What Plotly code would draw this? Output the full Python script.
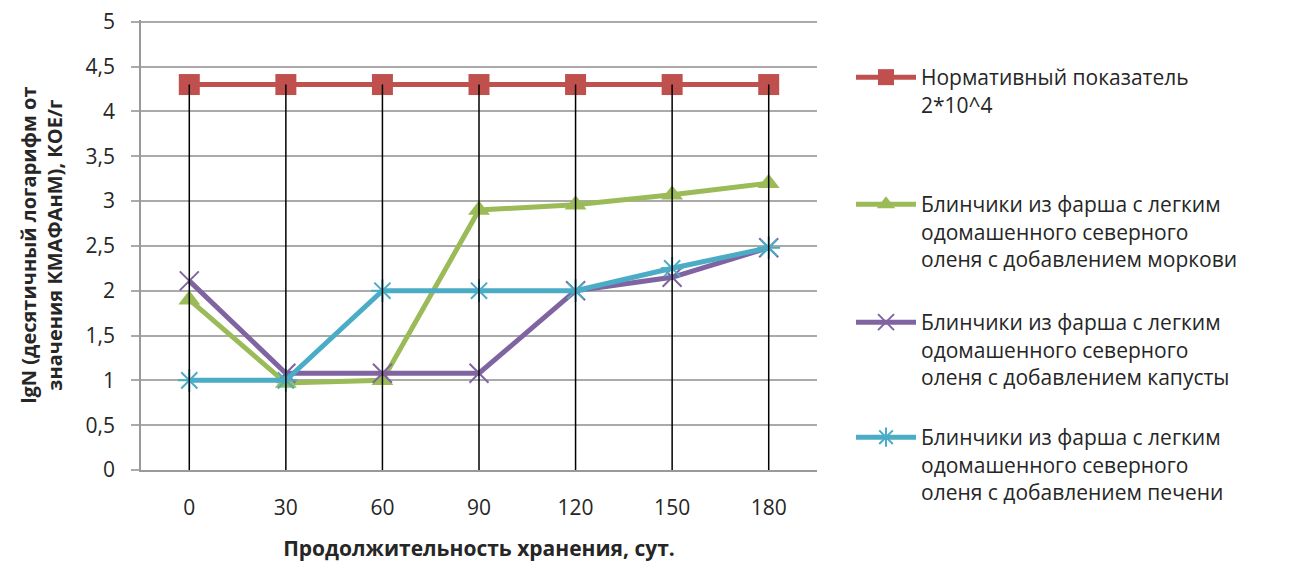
import plotly.graph_objects as go

days = ["0", "30", "60", "90", "120", "150", "180"]
norm = [4.3, 4.3, 4.3, 4.3, 4.3, 4.3, 4.3]
carrot = [1.9, 0.97, 1.0, 2.9, 2.96, 3.07, 3.2]
cabbage = [2.11, 1.08, 1.08, 1.08, 2.0, 2.15, 2.48]
liver = [1.0, 1.0, 2.0, 2.0, 2.0, 2.25, 2.48]

names = [
    "Нормативный показатель<br>2*10^4",
    "Блинчики из фарша с легким<br>одомашенного северного<br>оленя с добавлением моркови",
    "Блинчики из фарша с легким<br>одомашенного северного<br>оленя с добавлением капусты",
    "Блинчики из фарша с легким<br>одомашенного северного<br>оленя с добавлением печени",
]

FONT = "Open Sans"
TXT = "#262626"
fig = go.Figure()

series = [
    (norm, "#C0504D", "square", 21, None, "legend"),
    (carrot, "#9BBB59", "triangle-up", 19, None, "legend2"),
    (cabbage, "#8064A2", "x-thin-open", 19, 2, "legend3"),
    (liver, "#4BACC6", "asterisk-open", 19, 2, "legend4"),
]
for (vals, color, sym, size, mlw, lg), name in zip(series, names):
    mk = dict(symbol=sym, size=size, color=color)
    if mlw:
        mk["line"] = dict(color=color, width=mlw)
    fig.add_trace(go.Scatter(x=days, y=vals, name=name, mode="lines+markers",
                             line=dict(color=color, width=5), marker=mk, legend=lg))

# drop lines (black) from the normative series down to zero, drawn on top
fig.add_trace(go.Scatter(
    x=days, y=norm, mode="markers", marker=dict(size=1, color="rgba(0,0,0,0)"),
    error_y=dict(type="data", symmetric=False, array=[0] * len(norm), arrayminus=norm,
                 color="black", thickness=1.5, width=0),
    showlegend=False, hoverinfo="skip"))

leg_common = dict(font=dict(family=FONT, size=21, color=TXT), valign="top",
                  xref="container", yref="container", xanchor="left", yanchor="top",
                  bgcolor="rgba(0,0,0,0)", itemwidth=60, tracegroupgap=0)
tops = [57, 184, 302, 417]
legs = {}
for i, t in enumerate(tops):
    key = "legend" if i == 0 else f"legend{i+1}"
    legs[key] = dict(leg_common, x=851 / 1302, y=1 - t / 562)

fig.update_layout(
    width=1302, height=562,
    margin=dict(l=141, r=485, t=20, b=92),
    paper_bgcolor="white", plot_bgcolor="white",
    separators=", ",
    font=dict(family=FONT, size=21, color=TXT),
    showlegend=True,
    **legs,
    xaxis=dict(type="category", range=[-0.5, 6.5], showgrid=False, automargin=False,
               showline=True, linecolor="#999", linewidth=1.5,
               ticks="", ticklabelstandoff=18,
               tickfont=dict(family=FONT, size=21, color=TXT),
               title=dict(text="<b>Продолжительность хранения, сут.</b>",
                          font=dict(family=FONT, size=21, color=TXT), standoff=22)),
    yaxis=dict(range=[0, 5.02], dtick=0.5,
               showgrid=True, gridcolor="#aaa", gridwidth=1.5,
               showline=True, linecolor="#999", linewidth=1.5, automargin=False,
               ticks="outside", ticklen=8, tickcolor="#aaa", tickwidth=1.5,
               ticklabelstandoff=12, zeroline=False,
               tickfont=dict(family=FONT, size=21, color=TXT),
               title=dict(text="<b>lgN (десятичный логарифм от<br>значения КМАФАнМ), КОЕ/г</b>",
                          font=dict(family=FONT, size=20, color=TXT), standoff=18)),
)

fig.write_html("out.html", config={"displayModeBar": False},
               post_script="document.body.style.margin='0';")
